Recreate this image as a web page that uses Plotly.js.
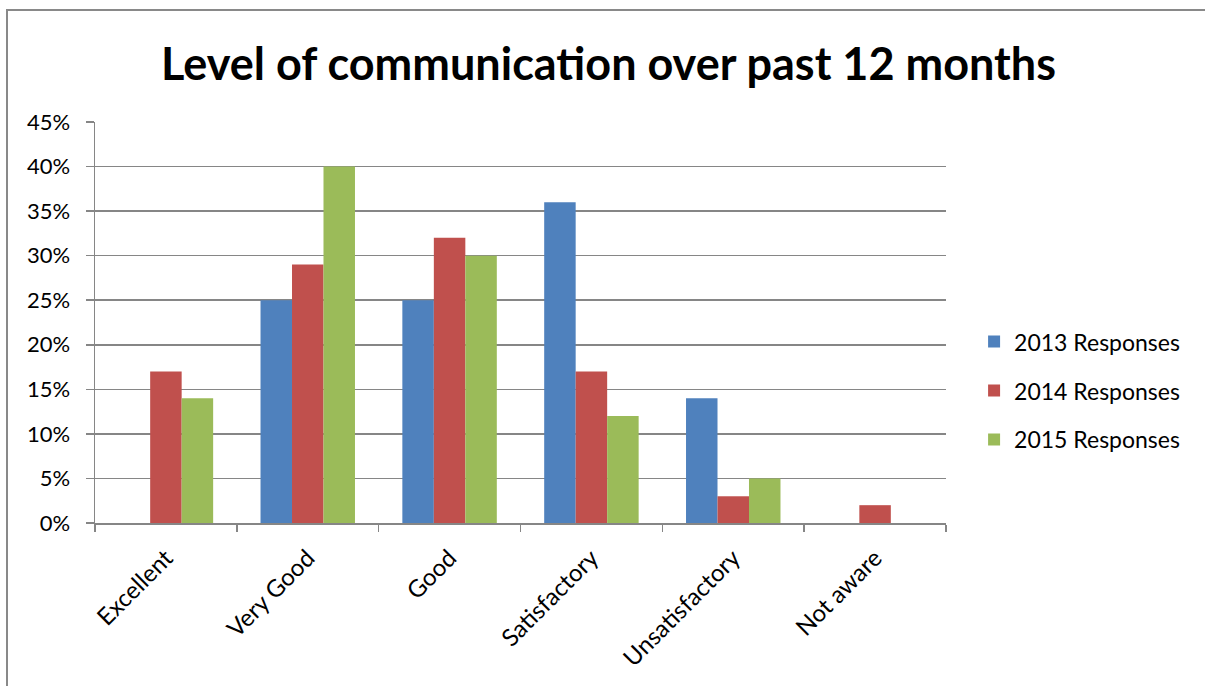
<!DOCTYPE html>
<html>
<head>
<meta charset="utf-8">
<script src="https://cdn.plot.ly/plotly-3.0.1.min.js"></script>
<style>
  html, body { margin: 0; padding: 0; background: #fff; }
  #wrap { position: relative; width: 1205px; height: 686px; overflow: hidden; }
  #chart { width: 1205px; height: 686px; }
  #frame { position: absolute; left: 6px; top: 9px; width: 1220px; height: 700px;
           border: 2px solid #898989; pointer-events: none; box-sizing: border-box; }
</style>
</head>
<body>
<div id="wrap">
  <div id="chart"></div>
  <div id="frame"></div>
</div>
<script>
const categories = ["Excellent", "Very Good", "Good", "Satisfactory", "Unsatisfactory", "Not aware"];
const seriesNames = ["2013 Responses", "2014 Responses", "2015 Responses"];
const values2013 = [0, 0.25, 0.25, 0.36, 0.14, 0];
const values2014 = [0.17, 0.29, 0.32, 0.17, 0.03, 0.02];
const values2015 = [0.14, 0.40, 0.30, 0.12, 0.05, 0];
const yTickVals = [0, 0.05, 0.10, 0.15, 0.20, 0.25, 0.30, 0.35, 0.40, 0.45];
const yTickText = ["0%", "5%", "10%", "15%", "20%", "25%", "30%", "35%", "40%", "45%"];
const colors = ["#4F81BD", "#C0504D", "#9BBB59"];

const allValues = [values2013, values2014, values2015];
const font = "Lato, 'Noto Sans', sans-serif";

const traces = allValues.map((vals, i) => ({
  type: "bar",
  name: seriesNames[i],
  x: categories,
  y: vals,
  marker: { color: colors[i], line: { width: 0 } },
  legendgroup: "g" + i,
  hoverinfo: "x+y+name"
}));

const layout = {
  width: 1205,
  height: 686,
  paper_bgcolor: "#ffffff",
  plot_bgcolor: "#ffffff",
  margin: { l: 95, r: 259, t: 122, b: 163, pad: 0 },
  font: { family: font, color: "#000000", size: 21 },
  title: {
    text: "<b>Level of communication over past 12 months</b>",
    font: { family: font, size: 45, color: "#000000" },
    x: 0.505, xref: "container", xanchor: "center",
    y: 0.907, yref: "container", yanchor: "middle"
  },
  barmode: "group",
  bargap: 0.334,
  bargroupgap: 0,
  xaxis: {
    type: "category",
    tickangle: -45,
    ticks: "outside",
    tickson: "boundaries",
    ticklen: 7,
    tickcolor: "#868686",
    tickwidth: 1.5,
    showline: true,
    linecolor: "#868686",
    linewidth: 1.5,
    showgrid: false,
    ticklabelstandoff: 10,
    tickfont: { family: font, size: 24, color: "#000000" },
    fixedrange: true
  },
  yaxis: {
    range: [0, 0.45],
    tickvals: yTickVals,
    ticktext: yTickText,
    ticks: "outside",
    ticklen: 8,
    tickcolor: "#868686",
    tickwidth: 1.5,
    showline: true,
    linecolor: "#868686",
    linewidth: 1.5,
    showgrid: true,
    gridcolor: "#868686",
    gridwidth: 1.5,
    zeroline: false,
    ticklabelstandoff: 11,
    tickfont: { family: font, size: 22, color: "#000000" },
    fixedrange: true
  },
  showlegend: true,
  legend: {
    x: 1.033, xanchor: "left",
    y: 0.33, yanchor: "middle",
    traceorder: "grouped",
    tracegroupgap: 16,
    font: { family: font, size: 23, color: "#000000" },
    itemwidth: 30,
    bgcolor: "rgba(0,0,0,0)"
  }
};

Plotly.newPlot("chart", traces, layout, { displayModeBar: false, staticPlot: true });
</script>
</body>
</html>
